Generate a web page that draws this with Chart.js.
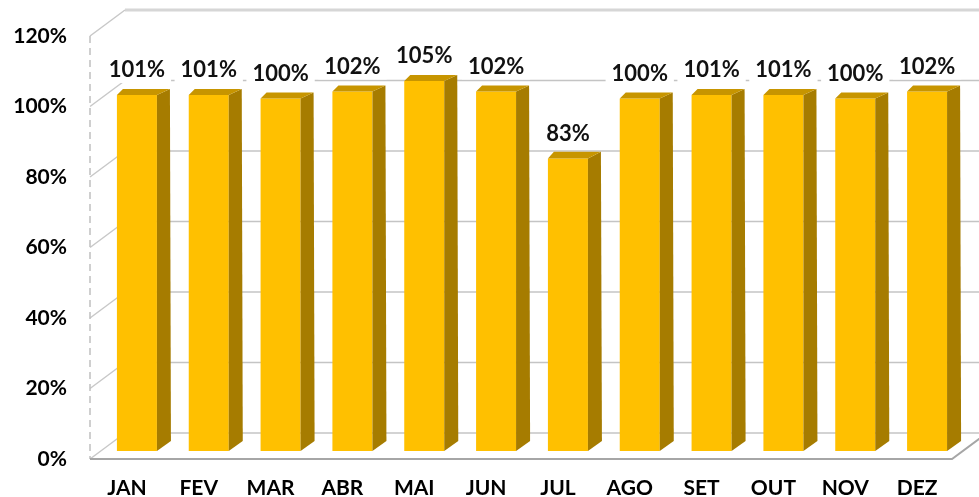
<!DOCTYPE html>
<html>
<head>
<meta charset="utf-8">
<script src="https://cdn.jsdelivr.net/npm/chart.js@4.4.0/dist/chart.umd.min.js"></script>
<style>
  body { margin: 0; background: #fff; }
  canvas { display: block; }
</style>
</head>
<body>
<canvas id="mycanvas" width="979" height="497"></canvas>
<script>
var meses = ['JAN', 'FEV', 'MAR', 'ABR', 'MAI', 'JUN', 'JUL', 'AGO', 'SET', 'OUT', 'NOV', 'DEZ'];
var valores = [1.01, 1.01, 1.00, 1.02, 1.05, 1.02, 0.83, 1.00, 1.01, 1.01, 1.00, 1.02];
var yTicks = ['0%', '20%', '40%', '60%', '80%', '100%', '120%'];
var yTickValues = [0, 0.2, 0.4, 0.6, 0.8, 1.0, 1.2];

// offsets of the front and back planes relative to the bar plane
var FRONT = { x: -11, y: 8 };
var BACK = { x: 24, y: -18 };

var paredes = {
	id: 'paredes',
	beforeDatasetsDraw: function(chart) {
		var ctx = chart.ctx;
		var area = chart.chartArea;
		var ys = chart.scales.y;
		ctx.save();
		ctx.lineCap = 'butt';

		// back wall gridlines
		for (var i = 0; i < yTickValues.length; i++) {
			var py = ys.getPixelForValue(yTickValues[i]);
			ctx.beginPath();
			if (i == yTickValues.length - 1) {
				ctx.strokeStyle = '#d6d6d6';
				ctx.lineWidth = 3;
			} else {
				ctx.strokeStyle = '#c4c4c4';
				ctx.lineWidth = 1.5;
			}
			ctx.moveTo(area.left + BACK.x, py + BACK.y);
			ctx.lineTo(area.right + BACK.x + 40, py + BACK.y);
			ctx.stroke();

			// left wall diagonals
			ctx.beginPath();
			ctx.strokeStyle = '#c8c8c8';
			ctx.lineWidth = 1.5;
			ctx.moveTo(area.left + FRONT.x, py + FRONT.y);
			ctx.lineTo(area.left + BACK.x, py + BACK.y);
			ctx.stroke();
		}

		// dashed front edge of the left wall
		var yTop = ys.getPixelForValue(1.2) + FRONT.y;
		var yBot = ys.getPixelForValue(0) + FRONT.y;
		ctx.beginPath();
		ctx.setLineDash([7, 5]);
		ctx.strokeStyle = '#c0c0c0';
		ctx.lineWidth = 1.5;
		ctx.moveTo(area.left + FRONT.x, yTop);
		ctx.lineTo(area.left + FRONT.x, yBot);
		ctx.stroke();
		ctx.setLineDash([]);

		// floor front edge
		ctx.beginPath();
		ctx.strokeStyle = '#a6a6a6';
		ctx.lineWidth = 2;
		ctx.moveTo(area.left + FRONT.x, yBot);
		ctx.lineTo(area.right + FRONT.x, yBot);
		ctx.lineTo(area.right + BACK.x, ys.getPixelForValue(0) + BACK.y);
		ctx.stroke();
		ctx.restore();
	}
};

var barras3d = {
	id: 'barras3d',
	afterDatasetsDraw: function(chart) {
		var ctx = chart.ctx;
		var meta = chart.getDatasetMeta(0);
		ctx.save();
		meta.data.forEach(function(el, i) {
			var x0 = el.x - el.width / 2;
			var x1 = el.x + el.width / 2;
			var yt = el.y;
			var yb = el.base;
			var dyTop = -6 - 4 * (yt - 95) / 356;
			var dyBot = -10;

			// right side
			ctx.fillStyle = '#a67c00';
			ctx.beginPath();
			ctx.moveTo(x1, yt);
			ctx.lineTo(x1 + 13, yt + dyTop);
			ctx.lineTo(x1 + 14, yb + dyBot);
			ctx.lineTo(x1, yb);
			ctx.closePath();
			ctx.fill();

			// top
			ctx.fillStyle = '#c79500';
			ctx.beginPath();
			ctx.moveTo(x0, yt);
			ctx.lineTo(x0 + 6, yt + dyTop);
			ctx.lineTo(x1 + 13, yt + dyTop);
			ctx.lineTo(x1, yt);
			ctx.closePath();
			ctx.fill();

			// label with white box
			var txt = Math.round(valores[i] * 100) + '%';
			ctx.font = 'bold 22px Lato';
			var w = ctx.measureText(txt).width;
			var cy = yt - 25;
			ctx.fillStyle = '#ffffff';
			ctx.fillRect(el.x - w / 2 - 6, cy - 13, w + 12, 26);
			ctx.fillStyle = '#111111';
			ctx.textAlign = 'center';
			ctx.textBaseline = 'middle';
			ctx.fillText(txt, el.x, cy);
		});
		ctx.restore();
	}
};

var chartdata = {
	labels: meses,
	datasets: [
		{
			label: 'Percentual',
			backgroundColor: '#ffc000',
			borderWidth: 0,
			barPercentage: 0.557,
			categoryPercentage: 1,
			data: valores
		}
	]
};

var ctx = document.getElementById('mycanvas');

var barGraph = new Chart(ctx, {
	type: 'bar',
	data: chartdata,
	plugins: [paredes, barras3d],
	options: {
		responsive: false,
		animation: false,
		devicePixelRatio: 1,
		layout: { padding: { top: 28, right: 16, left: 0, bottom: 0 } },
		plugins: {
			legend: { display: false },
			tooltip: { enabled: false }
		},
		scales: {
			x: {
				grid: { display: false, drawTicks: false },
				border: { display: false },
				afterFit: function(s) {
					s.height = 46;
					s.paddingLeft = 0;
					s.paddingRight = 0;
				},
				ticks: {
					color: '#000',
					font: { family: 'Lato', size: 21, weight: 'bold' },
					padding: 25,
					labelOffset: -10,
					maxRotation: 0,
					autoSkip: false
				}
			},
			y: {
				min: 0,
				max: 1.2,
				grid: { display: false, drawTicks: false },
				border: { display: false },
				afterFit: function(s) {
					s.width = 101;
					s.paddingTop = 0;
					s.paddingBottom = 0;
				},
				afterBuildTicks: function(s) {
					s.ticks = yTickValues.map(function(v) { return { value: v }; });
				},
				ticks: {
					color: '#000',
					font: { family: 'Lato', size: 21, weight: 'bold' },
					padding: 34,
					labelOffset: 8,
					callback: function(v, i) { return yTicks[i]; }
				}
			}
		}
	}
});
</script>
</body>
</html>
